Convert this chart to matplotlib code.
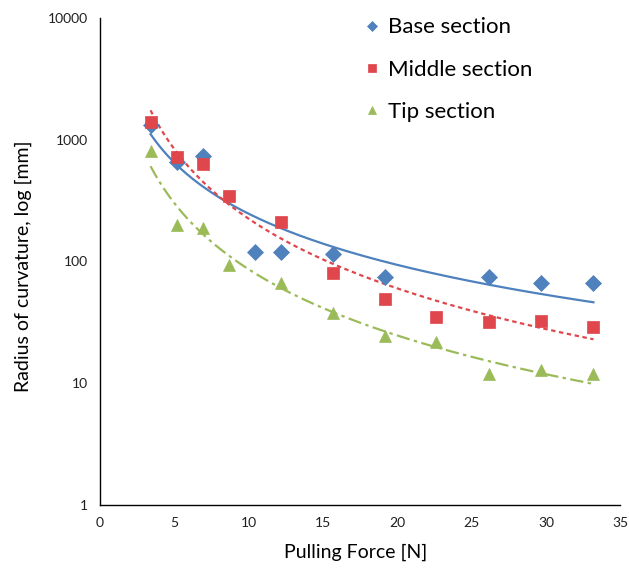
import numpy as np
import matplotlib.pyplot as plt

plt.rcParams['font.family'] = ['Lato', 'DejaVu Sans']

# Datos
base_x = [3.4, 5.2, 6.9, 10.4, 12.2, 15.7, 19.2, 26.2, 29.7, 33.2]
base_y = [1320, 660, 740, 119, 119, 115, 74, 74, 67, 67]
mid_x = [3.4, 5.2, 6.9, 8.7, 12.2, 15.7, 19.2, 22.6, 26.2, 29.7, 33.2]
mid_y = [1400, 720, 630, 348, 209, 80, 49, 35, 32, 32.5, 29]
tip_x = [3.4, 5.2, 6.9, 8.7, 12.2, 15.7, 19.2, 22.6, 26.2, 29.7, 33.2]
tip_y = [800, 200, 190, 93, 67, 37.7, 24.5, 21.9, 11.9, 12.9, 11.8]

series = [
    ('Base section', base_x, base_y, 'D', '#4F81BD', '-', 8),
    ('Middle section', mid_x, mid_y, 's', '#E0474C', (0, (2, 1.6)), 9),
    ('Tip section', tip_x, tip_y, '^', '#9BBB59', (0, (6, 2, 1.5, 2)), 9),
]

fig = plt.figure(figsize=(6.29, 5.73), dpi=100)
ax = fig.add_axes([0.159, 0.1187, 0.827, 0.85])

for name, xs, ys, mk, col, ls, ms in series:
    xs = np.array(xs)
    ys = np.array(ys)
    # línea de tendencia potencial (ajuste log-log)
    b, a = np.polyfit(np.log(xs), np.log(ys), 1)
    xf = np.linspace(xs.min(), xs.max(), 200)
    ax.plot(xf, np.exp(a) * xf ** b, color=col, ls=ls, lw=1.6, zorder=2)
    ax.plot(xs, ys, mk, color=col, ms=ms, mec=col, mew=0.5, ls='none',
            label=name, zorder=3)

ax.set_yscale('log')
ax.set_xlim(0, 35)
ax.set_ylim(1, 10000)
ax.set_xticks(range(0, 36, 5))
ax.set_yticks([1, 10, 100, 1000, 10000])
ax.set_yticklabels(['1', '10', '100', '1000', '10000'])
ax.minorticks_off()
ax.spines['top'].set_visible(False)
ax.spines['right'].set_visible(False)
for s in ['left', 'bottom']:
    ax.spines[s].set_color('black')
    ax.spines[s].set_linewidth(1.0)
ax.tick_params(labelsize=10, labelcolor='#202020', length=0, pad=9)

ax.set_xlabel('Pulling Force [N]', fontsize=14)
ax.xaxis.set_label_coords(0.492, -0.08)
ax.set_ylabel('Radius of curvature, log [mm]', fontsize=14)
ax.yaxis.set_label_coords(-0.13, 0.49)

ax.legend(loc='upper left', bbox_to_anchor=(0.467, 1.042), frameon=False,
          fontsize=16, labelspacing=1.0, handletextpad=0.35, markerscale=0.7,
          handlelength=0.8)

fig.savefig('out.png', dpi=100)
